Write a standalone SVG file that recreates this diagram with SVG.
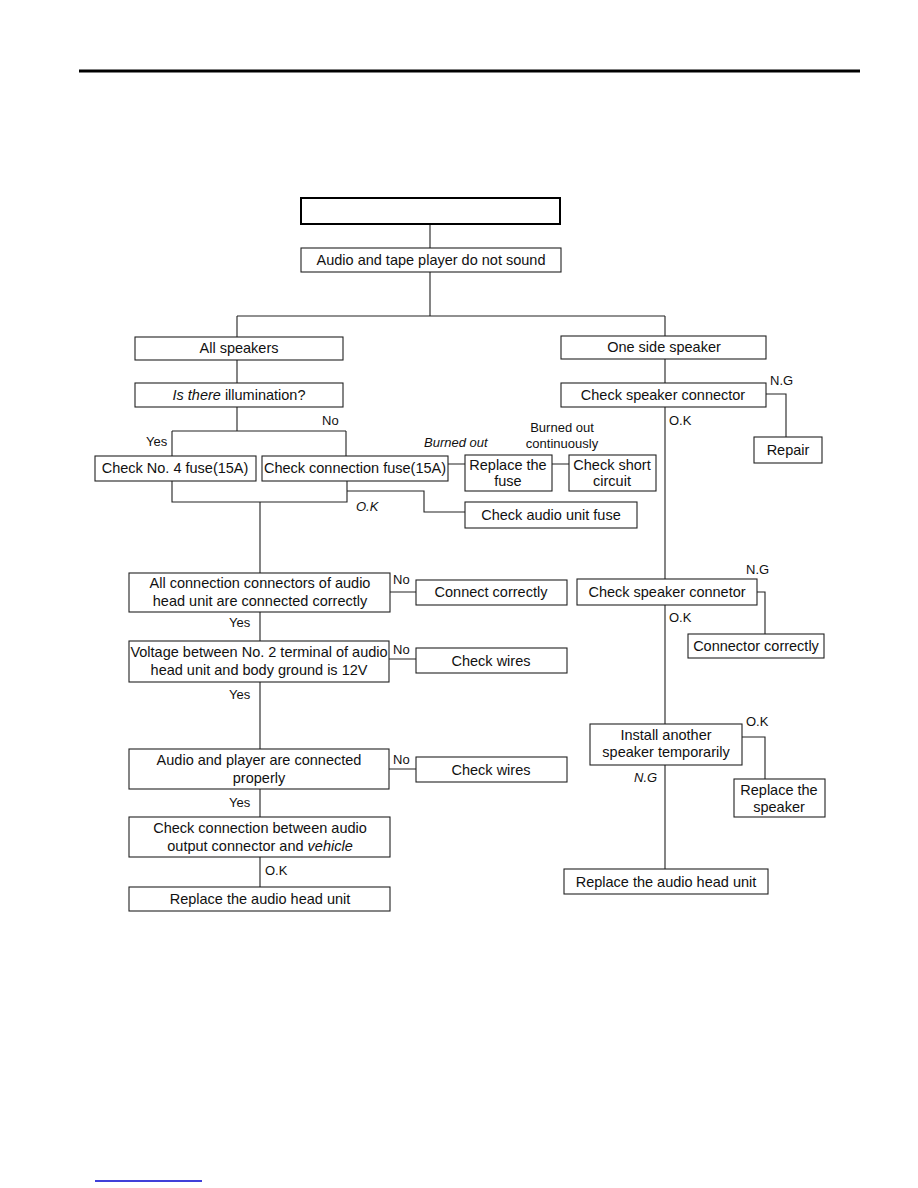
<svg xmlns="http://www.w3.org/2000/svg" width="918" height="1188" viewBox="0 0 918 1188">
<style>
.b{fill:#fff;stroke:#222;stroke-width:1.1}
.t{font-family:"Liberation Sans",Arial,sans-serif;font-size:14.5px;fill:#111;text-anchor:middle}
.l{font-family:"Liberation Sans",Arial,sans-serif;font-size:13px;fill:#111}
.i{font-style:italic}
.c{fill:none;stroke:#222;stroke-width:1.1}
</style>
<rect width="918" height="1188" fill="#fff"/>
<line x1="79" y1="71" x2="860" y2="71" stroke="#000" stroke-width="3"/>
<line x1="95" y1="1181" x2="202" y2="1181" stroke="#0000cc" stroke-width="1.5"/>
<g id="connectors" class="c">
<path d="M430 224V248M430 272V316M237 316H665M237 316V337M665 316V336"/>
<path d="M237 360V383M237 407V431M172 431H346M172 431V456M346 431V456"/>
<path d="M448 464H465M552 464H569"/>
<path d="M172 481V502H347V481M347 491H424V512H465M260 502V573"/>
<path d="M665 359V383M766 394H786V437M665 407V579"/>
<path d="M757 592H765V634M665 605V724"/>
<path d="M742 737H765V779M665 765V869"/>
<path d="M390 592H416M260 612V641M389 659H416M260 682V749M389 769H416M260 789V817M260 857V887"/>
</g>
<g id="n0"><rect class="b" x="301" y="198" width="259" height="26" style="stroke-width:2;stroke:#000"/></g>
<g id="n1"><rect class="b" x="301" y="248" width="260" height="24"/><text class="t" x="431" y="265">Audio and tape player do not sound</text></g>
<g id="n2"><rect class="b" x="135" y="337" width="208" height="23"/><text class="t" x="239" y="353">All speakers</text></g>
<g id="n3"><rect class="b" x="135" y="383" width="208" height="24"/><text class="t" x="239" y="400"><tspan class="i">Is there</tspan> illumination?</text></g>
<text class="l" x="322" y="425">No</text>
<text class="l" x="146" y="446">Yes</text>
<g id="n4"><rect class="b" x="95" y="456" width="161" height="25"/><text class="t" x="175" y="473">Check No. 4 fuse(15A)</text></g>
<g id="n5"><rect class="b" x="262" y="456" width="186" height="25"/><text class="t" x="355" y="473">Check connection fuse(15A)</text></g>
<text class="l i" x="424" y="447">Burned out</text>
<text class="l" x="562" y="432" text-anchor="middle">Burned out</text>
<text class="l" x="562" y="448" text-anchor="middle">continuously</text>
<g id="n6"><rect class="b" x="465" y="455" width="87" height="36"/><text class="t" x="508" y="470">Replace the</text><text class="t" x="508" y="486">fuse</text></g>
<g id="n7"><rect class="b" x="569" y="455" width="87" height="36"/><text class="t" x="612" y="470">Check short</text><text class="t" x="612" y="486">circuit</text></g>
<text class="l i" x="356" y="511">O.K</text>
<g id="n8"><rect class="b" x="465" y="502" width="172" height="26"/><text class="t" x="551" y="520">Check audio unit fuse</text></g>
<g id="n9"><rect class="b" x="561" y="336" width="205" height="23"/><text class="t" x="664" y="352">One side speaker</text></g>
<g id="n10"><rect class="b" x="561" y="383" width="205" height="24"/><text class="t" x="663" y="400">Check speaker connector</text></g>
<text class="l" x="770" y="385">N.G</text>
<text class="l" x="669" y="425">O.K</text>
<g id="n11"><rect class="b" x="754" y="437" width="68" height="26"/><text class="t" x="788" y="455">Repair</text></g>
<g id="n12"><rect class="b" x="129" y="573" width="261" height="39"/><text class="t" x="260" y="588">All connection connectors of audio</text><text class="t" x="260" y="606">head unit are connected correctly</text></g>
<text class="l" x="393" y="584">No</text>
<g id="n13"><rect class="b" x="416" y="580" width="151" height="25"/><text class="t" x="491" y="597">Connect correctly</text></g>
<text class="l" x="229" y="627">Yes</text>
<g id="n14"><rect class="b" x="129" y="641" width="260" height="41"/><text class="t" x="259" y="657">Voltage between No. 2 terminal of audio</text><text class="t" x="259" y="675">head unit and body ground is 12V</text></g>
<text class="l" x="393" y="654">No</text>
<g id="n15"><rect class="b" x="416" y="648" width="151" height="25"/><text class="t" x="491" y="666">Check wires</text></g>
<text class="l" x="229" y="699">Yes</text>
<g id="n16"><rect class="b" x="577" y="579" width="180" height="26"/><text class="t" x="667" y="597">Check speaker connetor</text></g>
<text class="l" x="746" y="574">N.G</text>
<text class="l" x="669" y="622">O.K</text>
<g id="n17"><rect class="b" x="688" y="634" width="136" height="24"/><text class="t" x="756" y="651">Connector correctly</text></g>
<g id="n18"><rect class="b" x="590" y="724" width="152" height="41"/><text class="t" x="666" y="740">Install another</text><text class="t" x="666" y="757">speaker temporarily</text></g>
<text class="l" x="746" y="726">O.K</text>
<text class="l i" x="634" y="782">N.G</text>
<g id="n19"><rect class="b" x="734" y="779" width="91" height="38"/><text class="t" x="779" y="795">Replace the</text><text class="t" x="779" y="812">speaker</text></g>
<g id="n20"><rect class="b" x="129" y="749" width="260" height="40"/><text class="t" x="259" y="765">Audio and player are connected</text><text class="t" x="259" y="783">properly</text></g>
<text class="l" x="393" y="764">No</text>
<g id="n21"><rect class="b" x="416" y="757" width="151" height="25"/><text class="t" x="491" y="775">Check wires</text></g>
<text class="l" x="229" y="807">Yes</text>
<g id="n22"><rect class="b" x="129" y="817" width="261" height="40"/><text class="t" x="260" y="833">Check connection between audio</text><text class="t" x="260" y="851">output connector and <tspan class="i">vehicle</tspan></text></g>
<text class="l" x="265" y="875">O.K</text>
<g id="n23"><rect class="b" x="129" y="887" width="261" height="24"/><text class="t" x="260" y="904">Replace the audio head unit</text></g>
<g id="n24"><rect class="b" x="564" y="869" width="204" height="25"/><text class="t" x="666" y="887">Replace the audio head unit</text></g>
</svg>
